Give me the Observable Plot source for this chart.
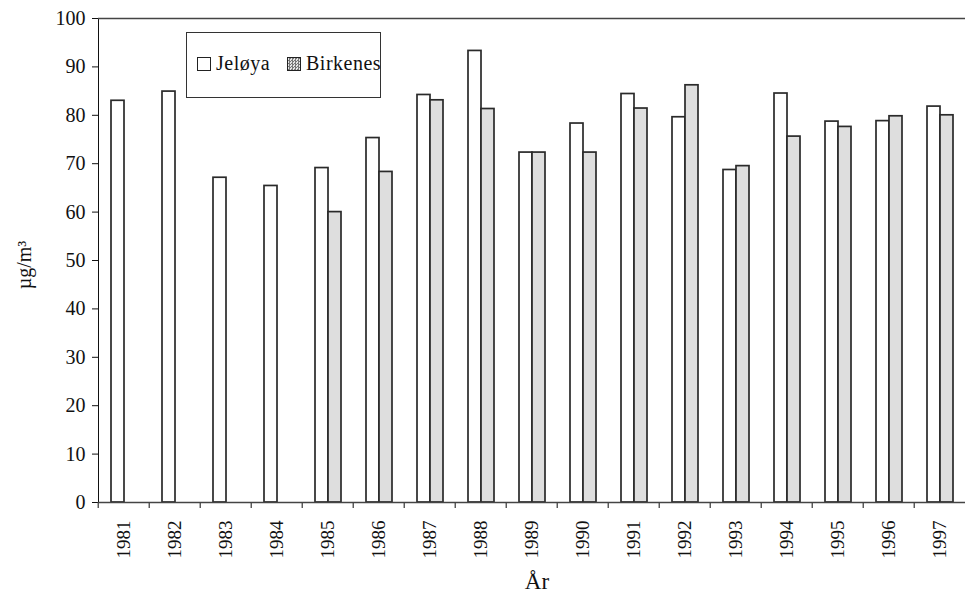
<!DOCTYPE html>
<html>
<head>
<meta charset="utf-8">
<script src="https://cdn.jsdelivr.net/npm/d3@7"></script>
<script src="https://cdn.jsdelivr.net/npm/@observablehq/plot@0.6"></script>
<style>
  html, body { margin: 0; padding: 0; background: white; }
  #wrap { position: relative; width: 969px; height: 596px; font-family: "Liberation Serif", "Times New Roman", serif; color: #111; }
  #legend { position: absolute; left: 186px; top: 32px; width: 193px; height: 64px; border: 1.8px solid #333; background: white; font-size: 20px; }
  #legend .item { position: absolute; top: 19px; display: flex; align-items: center; }
  #legend .sw { width: 12px; height: 12px; border: 1.3px solid #222; margin-right: 5px; box-sizing: content-box; }
  #ylabel { position: absolute; left: 24px; top: 265px; transform: translate(-50%, -50%) rotate(-90deg); font-size: 20px; white-space: nowrap; }
  #xlabel { position: absolute; left: 537px; top: 569px; transform: translateX(-50%); font-size: 23px; }
</style>
</head>
<body>
<div id="wrap">
  <div id="chart"></div>
  <div id="legend"></div>
  <div id="ylabel">µg/m³</div>
  <div id="xlabel">År</div>
</div>
<script>
const years = ["1981","1982","1983","1984","1985","1986","1987","1988","1989","1990","1991","1992","1993","1994","1995","1996","1997"];
const seriesNames = ["Jeløya", "Birkenes"];
const jeloya   = [83.0, 84.9, 67.1, 65.4, 69.1, 75.3, 84.2, 93.3, 72.3, 78.3, 84.4, 79.6, 68.7, 84.5, 78.7, 78.8, 81.8];
const birkenes = [null, null, null, null, 60.0, 68.3, 83.1, 81.3, 72.3, 72.3, 81.4, 86.2, 69.5, 75.6, 77.6, 79.8, 80.0];
const yTicks = [0, 10, 20, 30, 40, 50, 60, 70, 80, 90, 100];
const colors = { "Jeløya": "white", "Birkenes": "#dedede" };

const data = years.flatMap((yr, i) => [
  { year: yr, series: "Jeløya", value: jeloya[i] },
  { year: yr, series: "Birkenes", value: birkenes[i] }
]).filter(d => d.value != null);

const W = 969, mL = 93, mR = 0;
const band = (W - mL - mR) / years.length;

const chart = Plot.plot({
  width: W,
  height: 596,
  marginLeft: mL,
  marginRight: mR,
  marginTop: 18,
  marginBottom: 94,
  style: { fontFamily: "'Liberation Serif', 'Times New Roman', serif", fontSize: "20px", color: "#111", background: "white", overflow: "visible" },
  fx: { domain: years, padding: 0, label: null, axis: null },
  x: { domain: seriesNames, axis: null, paddingInner: 0, paddingOuter: 0.85 },
  y: { domain: [0, 100], ticks: yTicks, tickSize: 6, tickPadding: 7, label: null, line: true },
  marks: [
    Plot.barY(data, { fx: "year", x: "series", y: "value", fill: d => colors[d.series], stroke: "#2a2a2a", strokeWidth: 1.7 }),
    Plot.ruleY([0, 100], { stroke: "#444", strokeWidth: 1.6 }),
    Plot.axisFx({ anchor: "bottom", tickSize: 0, tickRotate: -90, tickPadding: 18, label: null, fontSize: 19 }),
    Plot.axisFx({ anchor: "bottom", tickSize: 6, dx: -band / 2, tickFormat: () => "", label: null, stroke: "#444", strokeWidth: 1.3 })
  ]
});
document.getElementById("chart").appendChild(chart);

// legend
const legend = document.getElementById("legend");
const swStyles = {
  "Jeløya": "background: white;",
  "Birkenes": "background: repeating-conic-gradient(#777 0 25%, #e4e4e4 0 50%) 0 0 / 3px 3px;"
};
const lefts = [10, 100];
seriesNames.forEach((name, i) => {
  const it = document.createElement("div");
  it.className = "item";
  it.style.left = lefts[i] + "px";
  it.innerHTML = `<span class="sw" style="${swStyles[name]}"></span><span style="letter-spacing:0.5px">${name}</span>`;
  legend.appendChild(it);
});
</script>
</body>
</html>
